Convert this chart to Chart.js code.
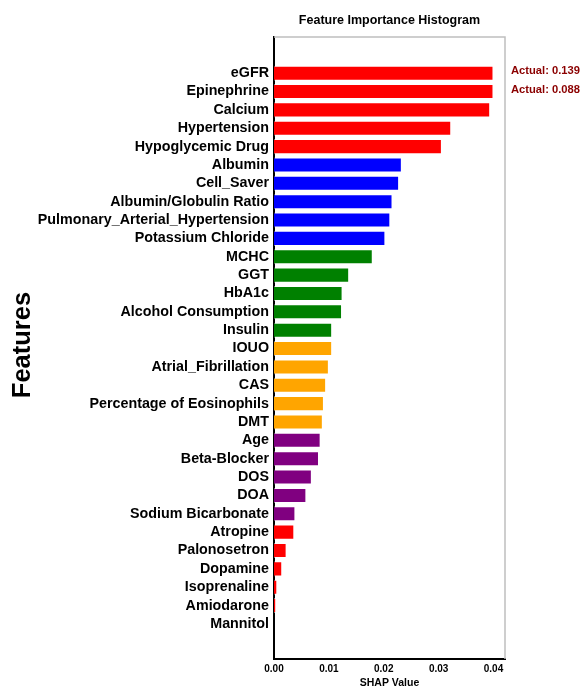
<!DOCTYPE html>
<html>
<head>
<meta charset="utf-8">
<title>Feature Importance Histogram</title>
<script src="https://cdn.jsdelivr.net/npm/chart.js@4/dist/chart.umd.min.js"></script>
<style>
  html, body { margin: 0; padding: 0; background: #ffffff; }
  #wrap { width: 582px; height: 686px; }
</style>
</head>
<body>
<div id="wrap"><canvas id="chart" width="582" height="686"></canvas></div>
<script>
// Features ranked by mean |SHAP|, most important first.
const features = [
  'eGFR', 'Epinephrine', 'Calcium', 'Hypertension', 'Hypoglycemic Drug',
  'Albumin', 'Cell_Saver', 'Albumin/Globulin Ratio', 'Pulmonary_Arterial_Hypertension', 'Potassium Chloride',
  'MCHC', 'GGT', 'HbA1c', 'Alcohol Consumption', 'Insulin',
  'IOUO', 'Atrial_Fibrillation', 'CAS', 'Percentage of Eosinophils', 'DMT',
  'Age', 'Beta-Blocker', 'DOS', 'DOA', 'Sodium Bicarbonate',
  'Atropine', 'Palonosetron', 'Dopamine', 'Isoprenaline', 'Amiodarone', 'Mannitol'
];

const shapValues = [
  0.139, 0.088, 0.0394, 0.0323, 0.0306,
  0.0233, 0.0228, 0.0216, 0.0212, 0.0203,
  0.0180, 0.0137, 0.0125, 0.0124, 0.0106,
  0.0106, 0.0100, 0.0095, 0.0091, 0.0089,
  0.0085, 0.0082, 0.0069, 0.0059, 0.0039,
  0.0037, 0.0023, 0.0015, 0.0006, 0.0004, 0.00003
];

const xTickValues = [0, 0.01, 0.02, 0.03, 0.04];

// Bars longer than this are cut off here and their real value is written beside them.
const xCap = 0.04;
const xAxisMax = 0.0421;

// Colours cycle every five features.
const groupColors = ['#FF0000', '#0000FF', '#008000', '#FFA500', '#800080'];

const FONT = '"Liberation Sans", Arial, Helvetica, sans-serif';

const barPoints = shapValues.map((v, i) => ({ x: Math.min(v, xCap), y: i, actual: v }));
const barColors = shapValues.map((v, i) => groupColors[Math.floor(i / 5) % groupColors.length]);

const decorations = {
  id: 'decorations',
  afterDraw(chart) {
    const { ctx, chartArea } = chart;
    const ys = chart.scales.y;
    ctx.save();

    // light top and right frame lines
    ctx.strokeStyle = '#bfbfbf';
    ctx.lineWidth = 1.5;
    ctx.beginPath();
    ctx.moveTo(chartArea.left, chartArea.top);
    ctx.lineTo(chartArea.right, chartArea.top);
    ctx.lineTo(chartArea.right, chartArea.bottom);
    ctx.stroke();

    // title
    ctx.fillStyle = '#000000';
    ctx.font = 'bold 12.5px ' + FONT;
    ctx.textAlign = 'center';
    ctx.textBaseline = 'middle';
    ctx.fillText('Feature Importance Histogram', (chartArea.left + chartArea.right) / 2, 20.5);

    // x axis title
    ctx.font = 'bold 10.5px ' + FONT;
    ctx.textBaseline = 'alphabetic';
    ctx.fillText('SHAP Value', (chartArea.left + chartArea.right) / 2, 686);

    // y axis title
    ctx.save();
    ctx.translate(23, (chartArea.top + chartArea.bottom) / 2 - 3);
    ctx.rotate(-Math.PI / 2);
    ctx.font = 'bold 25.5px ' + FONT;
    ctx.textAlign = 'center';
    ctx.textBaseline = 'middle';
    ctx.fillText('Features', 0, 0);
    ctx.restore();

    // real values of the cut-off bars
    ctx.font = 'bold 11.2px ' + FONT;
    ctx.fillStyle = '#8B0000';
    ctx.textAlign = 'left';
    ctx.textBaseline = 'middle';
    shapValues.forEach((v, i) => {
      if (v > xCap) {
        ctx.fillText('Actual: ' + v.toFixed(3), chartArea.right + 6, ys.getPixelForValue(i) - 2);
      }
    });
    ctx.restore();
  }
};

new Chart(document.getElementById('chart'), {
  type: 'bar',
  data: {
    datasets: [{
      data: barPoints,
      backgroundColor: barColors,
      borderColor: 'rgba(255,255,255,0.45)',
      borderWidth: 1,
      categoryPercentage: 1,
      barPercentage: 0.82
    }]
  },
  options: {
    indexAxis: 'y',
    responsive: false,
    animation: false,
    layout: { padding: { left: 0, right: 77, top: 37, bottom: 0 } },
    plugins: {
      legend: { display: false },
      tooltip: { enabled: false },
      title: { display: false }
    },
    scales: {
      x: {
        type: 'linear',
        min: 0,
        max: xAxisMax,
        grid: { display: false, drawTicks: false },
        border: { display: true, color: '#000000', width: 2 },
        afterBuildTicks(scale) { scale.ticks = xTickValues.map(v => ({ value: v })); },
        afterFit(scale) { scale.height = 27; },
        ticks: {
          padding: 4,
          color: '#000000',
          font: { family: FONT, size: 10, weight: 'bold' },
          callback: v => Number(v).toFixed(2),
          maxRotation: 0
        }
      },
      y: {
        type: 'linear',
        reverse: true,
        offset: false,
        min: -1.97,
        max: 31.91,
        grid: { display: false, drawTicks: false, offset: false },
        border: { display: true, color: '#000000', width: 2 },
        afterBuildTicks(scale) { scale.ticks = features.map((f, i) => ({ value: i })); },
        afterFit(scale) { scale.width = 274; },
        ticks: {
          padding: 5,
          color: '#000000',
          autoSkip: false,
          font: { family: FONT, size: 14.3, weight: 'bold' },
          callback: (v) => features[v] !== undefined ? features[v] : ''
        }
      }
    }
  },
  plugins: [decorations]
});
</script>
</body>
</html>
